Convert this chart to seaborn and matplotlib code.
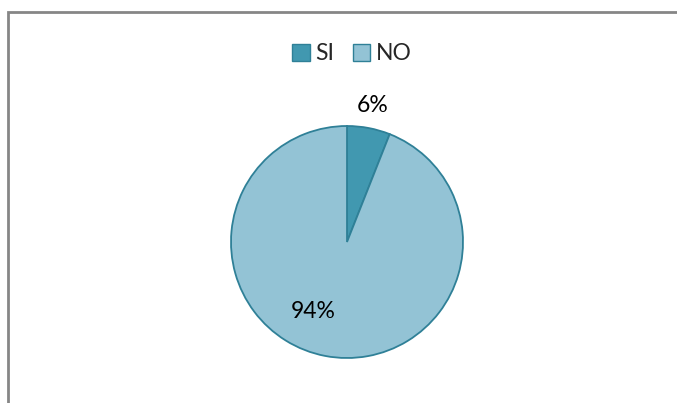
import matplotlib.pyplot as plt
import seaborn as sns
from matplotlib.patches import Patch, Rectangle

labels = ["SI", "NO"]
values = [6, 94]
colors = ["#4198B0", "#93C3D5"]

sns.set_style("white")
plt.rcParams['font.family'] = ['Lato', 'DejaVu Sans']

fig = plt.figure(figsize=(6.77, 4.03), dpi=100)
ax = fig.add_axes([202 / 677, 16 / 403, 290 / 677, 290 / 403])

wedges, texts, autotexts = ax.pie(values, colors=colors, startangle=90, counterclock=False,
                                  autopct='%1.0f%%', pctdistance=1.2,
                                  wedgeprops=dict(edgecolor="#2F8097", linewidth=1.3),
                                  textprops=dict(fontsize=16.5, color="black"))
# Excel-like placement of the big slice label
autotexts[1].set_position((-0.29, -0.60))
ax.set_xlim(-1.25, 1.25)
ax.set_ylim(-1.25, 1.25)
ax.set_aspect('equal')

handles = [Patch(facecolor=c, edgecolor="#2F8097", linewidth=1) for c in colors]
fig.legend(handles, labels, loc='center', bbox_to_anchor=(352 / 677, 1 - 54 / 403), ncol=2,
           frameon=False, fontsize=16.5, handlelength=0.75, handleheight=0.75,
           handletextpad=0.25, columnspacing=0.8)

# chart border (only left and top visible)
fig.patches.append(Rectangle((8 / 677, -0.1), 2, 1.1 - 11.5 / 403, transform=fig.transFigure,
                             fill=False, edgecolor="#868686", linewidth=2))

fig.savefig("out.png", dpi=100)
